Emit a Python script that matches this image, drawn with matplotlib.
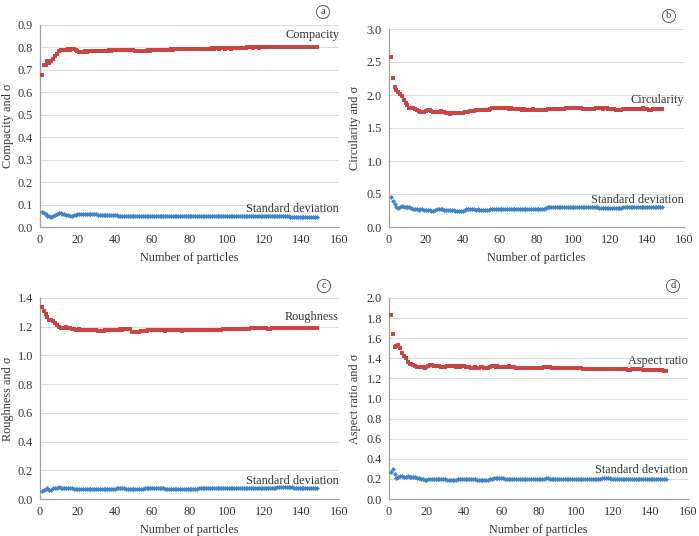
import matplotlib
matplotlib.use("Agg")
import matplotlib.pyplot as plt
import numpy as np

plt.rcParams['font.family'] = ['Liberation Serif', 'DejaVu Serif']

particles = list(range(1, 149))

compacity = [
    0.675, 0.720, 0.722, 0.738, 0.730, 0.740, 0.750, 0.760, 0.772, 0.782,
    0.788, 0.790, 0.789, 0.790, 0.791, 0.790, 0.792, 0.793, 0.788, 0.783,
    0.780, 0.778, 0.781, 0.782, 0.780, 0.782, 0.784, 0.783, 0.782, 0.783,
    0.784, 0.783, 0.784, 0.785, 0.784, 0.786, 0.787, 0.786, 0.788, 0.788,
    0.789, 0.788, 0.788, 0.789, 0.788, 0.789, 0.788, 0.787, 0.788, 0.787,
    0.786, 0.786, 0.785, 0.786, 0.785, 0.785, 0.786, 0.787, 0.786, 0.787,
    0.788, 0.788, 0.789, 0.788, 0.789, 0.790, 0.789, 0.790, 0.790, 0.791,
    0.790, 0.791, 0.791, 0.792, 0.791, 0.792, 0.792, 0.793, 0.792, 0.793,
    0.793, 0.792, 0.793, 0.793, 0.794, 0.793, 0.794, 0.794, 0.795, 0.794,
    0.795, 0.796, 0.795, 0.796, 0.796, 0.795, 0.796, 0.796, 0.795, 0.796,
    0.796, 0.795, 0.796, 0.797, 0.796, 0.797, 0.797, 0.798, 0.799, 0.799,
    0.800, 0.800, 0.800, 0.799, 0.800, 0.800, 0.799, 0.800, 0.800, 0.800,
    0.801, 0.800, 0.801, 0.801, 0.800, 0.801, 0.802, 0.801, 0.802, 0.802,
    0.802, 0.803, 0.802, 0.803, 0.803, 0.802, 0.803, 0.803, 0.804, 0.803,
    0.804, 0.803, 0.804, 0.804, 0.803, 0.804, 0.804, 0.803]

compacity_sd = [
    0.068, 0.062, 0.056, 0.050, 0.047, 0.045, 0.048, 0.052, 0.058, 0.061,
    0.061, 0.059, 0.057, 0.055, 0.053, 0.051, 0.050, 0.052, 0.054, 0.056,
    0.057, 0.058, 0.057, 0.058, 0.057, 0.058, 0.057, 0.057, 0.056, 0.056,
    0.055, 0.054, 0.054, 0.053, 0.053, 0.053, 0.052, 0.053, 0.052, 0.052,
    0.052, 0.051, 0.051, 0.051, 0.050, 0.050, 0.050, 0.050, 0.049, 0.049,
    0.049, 0.049, 0.048, 0.048, 0.048, 0.048, 0.048, 0.049, 0.048, 0.048,
    0.048, 0.048, 0.048, 0.049, 0.048, 0.048, 0.048, 0.048, 0.048, 0.048,
    0.048, 0.048, 0.048, 0.048, 0.048, 0.048, 0.048, 0.048, 0.048, 0.048,
    0.048, 0.048, 0.048, 0.048, 0.048, 0.048, 0.048, 0.048, 0.048, 0.048,
    0.048, 0.048, 0.048, 0.048, 0.048, 0.047, 0.047, 0.047, 0.047, 0.047,
    0.047, 0.047, 0.047, 0.047, 0.047, 0.047, 0.047, 0.047, 0.047, 0.047,
    0.047, 0.047, 0.047, 0.047, 0.047, 0.047, 0.047, 0.047, 0.047, 0.047,
    0.047, 0.047, 0.047, 0.047, 0.047, 0.047, 0.047, 0.047, 0.047, 0.047,
    0.047, 0.047, 0.047, 0.046, 0.046, 0.046, 0.046, 0.046, 0.046, 0.046,
    0.046, 0.046, 0.046, 0.046, 0.046, 0.046, 0.046, 0.046]

circularity = [
    2.58, 2.26, 2.12, 2.08, 2.05, 2.01, 1.98, 1.93, 1.88, 1.85,
    1.81, 1.80, 1.80, 1.79, 1.78, 1.76, 1.74, 1.74, 1.75, 1.76,
    1.77, 1.77, 1.76, 1.75, 1.75, 1.74, 1.75, 1.76, 1.75, 1.74,
    1.73, 1.72, 1.71, 1.72, 1.72, 1.72, 1.73, 1.73, 1.73, 1.73,
    1.74, 1.75, 1.75, 1.76, 1.76, 1.76, 1.77, 1.77, 1.77, 1.77,
    1.78, 1.77, 1.78, 1.78, 1.79, 1.80, 1.81, 1.81, 1.81, 1.81,
    1.81, 1.80, 1.80, 1.80, 1.79, 1.80, 1.79, 1.79, 1.79, 1.79,
    1.79, 1.78, 1.79, 1.78, 1.78, 1.78, 1.78, 1.79, 1.78, 1.78,
    1.78, 1.78, 1.77, 1.78, 1.78, 1.79, 1.79, 1.79, 1.79, 1.79,
    1.79, 1.79, 1.79, 1.79, 1.79, 1.80, 1.80, 1.80, 1.80, 1.80,
    1.80, 1.80, 1.80, 1.80, 1.79, 1.79, 1.79, 1.79, 1.79, 1.79,
    1.79, 1.80, 1.80, 1.80, 1.80, 1.79, 1.80, 1.80, 1.79, 1.79,
    1.79, 1.79, 1.78, 1.78, 1.78, 1.78, 1.79, 1.79, 1.79, 1.79,
    1.79, 1.79, 1.79, 1.79, 1.79, 1.79, 1.79, 1.80, 1.79, 1.79,
    1.78, 1.78, 1.79, 1.79, 1.79, 1.79, 1.79, 1.79]

circularity_sd = [
    0.45, 0.40, 0.35, 0.31, 0.29, 0.30, 0.32, 0.31, 0.31, 0.31,
    0.30, 0.29, 0.28, 0.27, 0.27, 0.26, 0.27, 0.27, 0.26, 0.26,
    0.26, 0.26, 0.25, 0.25, 0.26, 0.27, 0.27, 0.27, 0.27, 0.26,
    0.26, 0.26, 0.26, 0.26, 0.26, 0.25, 0.25, 0.25, 0.25, 0.25,
    0.26, 0.27, 0.27, 0.27, 0.27, 0.27, 0.26, 0.27, 0.26, 0.26,
    0.26, 0.26, 0.26, 0.26, 0.27, 0.28, 0.28, 0.28, 0.28, 0.28,
    0.28, 0.28, 0.28, 0.28, 0.28, 0.28, 0.27, 0.28, 0.28, 0.28,
    0.28, 0.28, 0.27, 0.28, 0.27, 0.27, 0.27, 0.27, 0.27, 0.27,
    0.27, 0.27, 0.27, 0.27, 0.29, 0.30, 0.31, 0.31, 0.31, 0.31,
    0.31, 0.31, 0.31, 0.31, 0.31, 0.31, 0.30, 0.30, 0.30, 0.31,
    0.30, 0.30, 0.30, 0.30, 0.30, 0.30, 0.30, 0.30, 0.30, 0.30,
    0.30, 0.30, 0.30, 0.29, 0.29, 0.29, 0.29, 0.29, 0.29, 0.29,
    0.29, 0.29, 0.29, 0.29, 0.29, 0.29, 0.31, 0.31, 0.31, 0.31,
    0.31, 0.31, 0.31, 0.31, 0.30, 0.30, 0.30, 0.30, 0.30, 0.30,
    0.30, 0.30, 0.30, 0.30, 0.30, 0.30, 0.30, 0.30]

roughness = [
    1.34, 1.31, 1.29, 1.27, 1.25, 1.245, 1.24, 1.225, 1.21, 1.20,
    1.19, 1.19, 1.19, 1.195, 1.19, 1.19, 1.185, 1.185, 1.18, 1.18,
    1.185, 1.18, 1.18, 1.18, 1.18, 1.175, 1.18, 1.175, 1.175, 1.175,
    1.17, 1.17, 1.17, 1.17, 1.175, 1.175, 1.175, 1.175, 1.18, 1.18,
    1.18, 1.18, 1.185, 1.18, 1.185, 1.185, 1.185, 1.185, 1.165, 1.165,
    1.165, 1.165, 1.165, 1.17, 1.17, 1.17, 1.17, 1.175, 1.175, 1.175,
    1.175, 1.175, 1.175, 1.175, 1.175, 1.175, 1.17, 1.175, 1.175, 1.175,
    1.175, 1.175, 1.175, 1.175, 1.175, 1.17, 1.175, 1.175, 1.175, 1.175,
    1.175, 1.175, 1.175, 1.175, 1.175, 1.18, 1.18, 1.18, 1.18, 1.18,
    1.18, 1.18, 1.18, 1.18, 1.18, 1.18, 1.18, 1.185, 1.185, 1.185,
    1.185, 1.185, 1.185, 1.185, 1.185, 1.185, 1.185, 1.185, 1.185, 1.185,
    1.185, 1.185, 1.19, 1.19, 1.19, 1.19, 1.19, 1.19, 1.19, 1.19,
    1.19, 1.185, 1.185, 1.19, 1.19, 1.19, 1.19, 1.19, 1.19, 1.19,
    1.19, 1.19, 1.19, 1.19, 1.19, 1.19, 1.19, 1.19, 1.19, 1.19,
    1.19, 1.19, 1.19, 1.19, 1.19, 1.19, 1.19, 1.19]

roughness_sd = [
    0.058, 0.060, 0.068, 0.075, 0.066, 0.064, 0.074, 0.080, 0.080, 0.081,
    0.080, 0.080, 0.079, 0.077, 0.076, 0.075, 0.074, 0.073, 0.073, 0.072,
    0.072, 0.071, 0.071, 0.070, 0.070, 0.070, 0.070, 0.070, 0.071, 0.071,
    0.071, 0.070, 0.070, 0.070, 0.070, 0.070, 0.070, 0.070, 0.071, 0.071,
    0.074, 0.075, 0.074, 0.074, 0.074, 0.073, 0.073, 0.073, 0.072, 0.072,
    0.072, 0.071, 0.071, 0.071, 0.072, 0.075, 0.075, 0.075, 0.075, 0.075,
    0.075, 0.074, 0.074, 0.074, 0.074, 0.074, 0.073, 0.073, 0.073, 0.073,
    0.073, 0.072, 0.072, 0.072, 0.072, 0.072, 0.072, 0.072, 0.072, 0.072,
    0.072, 0.072, 0.072, 0.073, 0.074, 0.077, 0.078, 0.078, 0.078, 0.078,
    0.078, 0.078, 0.078, 0.078, 0.078, 0.078, 0.078, 0.079, 0.079, 0.079,
    0.079, 0.078, 0.078, 0.078, 0.078, 0.078, 0.078, 0.078, 0.077, 0.077,
    0.077, 0.077, 0.077, 0.077, 0.077, 0.077, 0.077, 0.077, 0.077, 0.077,
    0.077, 0.077, 0.077, 0.077, 0.078, 0.078, 0.082, 0.082, 0.082, 0.081,
    0.081, 0.081, 0.081, 0.081, 0.081, 0.080, 0.080, 0.080, 0.080, 0.080,
    0.080, 0.080, 0.079, 0.079, 0.079, 0.079, 0.078, 0.078]

aspect_ratio = [
    1.83, 1.645, 1.515, 1.52, 1.535, 1.50, 1.455, 1.425, 1.40, 1.365,
    1.34, 1.345, 1.335, 1.32, 1.315, 1.31, 1.315, 1.31, 1.305, 1.31,
    1.325, 1.335, 1.33, 1.325, 1.325, 1.32, 1.32, 1.315, 1.31, 1.315,
    1.32, 1.325, 1.325, 1.32, 1.32, 1.315, 1.32, 1.315, 1.32, 1.32,
    1.315, 1.31, 1.31, 1.305, 1.305, 1.31, 1.305, 1.305, 1.31, 1.31,
    1.305, 1.30, 1.305, 1.315, 1.32, 1.32, 1.315, 1.32, 1.31, 1.31,
    1.315, 1.315, 1.315, 1.32, 1.315, 1.31, 1.31, 1.305, 1.305, 1.305,
    1.305, 1.305, 1.305, 1.30, 1.30, 1.305, 1.30, 1.30, 1.30, 1.30,
    1.305, 1.305, 1.31, 1.31, 1.31, 1.31, 1.305, 1.305, 1.305, 1.305,
    1.30, 1.30, 1.30, 1.305, 1.305, 1.30, 1.30, 1.30, 1.305, 1.305,
    1.30, 1.30, 1.30, 1.295, 1.295, 1.295, 1.295, 1.29, 1.29, 1.29,
    1.29, 1.29, 1.29, 1.29, 1.295, 1.295, 1.295, 1.295, 1.295, 1.295,
    1.295, 1.295, 1.29, 1.29, 1.29, 1.29, 1.29, 1.285, 1.285, 1.29,
    1.29, 1.29, 1.29, 1.29, 1.29, 1.285, 1.285, 1.285, 1.285, 1.285,
    1.285, 1.28, 1.28, 1.28, 1.28, 1.28, 1.275, 1.275]

aspect_ratio_sd = [
    0.268, 0.298, 0.245, 0.212, 0.218, 0.225, 0.225, 0.222, 0.215, 0.225,
    0.222, 0.220, 0.218, 0.215, 0.210, 0.205, 0.200, 0.195, 0.190, 0.185,
    0.195, 0.200, 0.198, 0.195, 0.195, 0.195, 0.195, 0.195, 0.195, 0.195,
    0.193, 0.192, 0.190, 0.188, 0.186, 0.188, 0.195, 0.198, 0.200, 0.200,
    0.200, 0.198, 0.196, 0.196, 0.195, 0.195, 0.194, 0.193, 0.192, 0.190,
    0.188, 0.186, 0.190, 0.198, 0.203, 0.205, 0.205, 0.205, 0.205, 0.205,
    0.205, 0.203, 0.202, 0.200, 0.200, 0.198, 0.196, 0.196, 0.196, 0.196,
    0.196, 0.196, 0.196, 0.196, 0.196, 0.196, 0.198, 0.200, 0.200, 0.200,
    0.200, 0.202, 0.203, 0.204, 0.204, 0.203, 0.202, 0.201, 0.200, 0.200,
    0.200, 0.200, 0.199, 0.199, 0.199, 0.200, 0.200, 0.200, 0.200, 0.200,
    0.200, 0.200, 0.199, 0.199, 0.198, 0.198, 0.198, 0.197, 0.197, 0.197,
    0.197, 0.197, 0.198, 0.205, 0.205, 0.205, 0.204, 0.204, 0.203, 0.203,
    0.202, 0.202, 0.201, 0.201, 0.200, 0.200, 0.200, 0.200, 0.200, 0.200,
    0.200, 0.200, 0.200, 0.200, 0.199, 0.199, 0.199, 0.199, 0.198, 0.198,
    0.198, 0.198, 0.197, 0.197, 0.196, 0.196, 0.195, 0.195]

panel_letters = ['a', 'b', 'c', 'd']
series_names = ['Compacity', 'Circularity', 'Roughness', 'Aspect ratio']
y_labels = ['Compacity and σ', 'Circularity and σ', 'Roughness and σ', 'Aspect ratio and σ']
y_ticks = [
    [0.0, 0.1, 0.2, 0.3, 0.4, 0.5, 0.6, 0.7, 0.8, 0.9],
    [0.0, 0.5, 1.0, 1.5, 2.0, 2.5, 3.0],
    [0.0, 0.2, 0.4, 0.6, 0.8, 1.0, 1.2, 1.4],
    [0.0, 0.2, 0.4, 0.6, 0.8, 1.0, 1.2, 1.4, 1.6, 1.8, 2.0],
]
x_ticks = [0, 20, 40, 60, 80, 100, 120, 140, 160]
main_series = [compacity, circularity, roughness, aspect_ratio]
sd_series = [compacity_sd, circularity_sd, roughness_sd, aspect_ratio_sd]

RED = '#c94442'
BLUE = '#3f83c8'

W, H = 699, 536
fig = plt.figure(figsize=(W / 100, H / 100), dpi=100)

# axes rectangles in pixels: left, right, top, bottom
rects = [
    (40, 339, 25, 227),
    (389, 684, 29, 227),
    (40, 339, 298, 499),
    (389, 688, 298, 499),
]
name_y = [0.855, 1.93, 1.27, 1.376]
sd_y = [0.080, 0.41, 0.125, 0.289]
letter_pos = [(323, 12), (669, 16), (324, 286), (673, 286)]
ylabel_x = [8, 355, 8, 355]
xlabel_y = [258, 258, 530, 530]

for i in range(4):
    l, r, t, b = rects[i]
    ax = fig.add_axes([l / W, 1 - b / H, (r - l) / W, (b - t) / H])
    ax.plot(particles, main_series[i], linestyle='none', marker='s',
            markersize=3.5, color=RED, markeredgewidth=0, zorder=3)
    ax.plot(particles, sd_series[i], linestyle='none', marker='D',
            markersize=2.5, color=BLUE, markeredgewidth=0, zorder=3)
    ax.set_xlim(0, 160)
    ax.set_ylim(y_ticks[i][0], y_ticks[i][-1])
    ax.set_xticks(x_ticks)
    ax.set_yticks(y_ticks[i])
    ax.set_yticklabels([f'{v:.1f}' for v in y_ticks[i]])
    ax.yaxis.grid(True, color='#dcdcdc', linewidth=0.8)
    ax.set_axisbelow(True)
    for s in ['top', 'right']:
        ax.spines[s].set_visible(False)
    for s in ['left', 'bottom']:
        ax.spines[s].set_color('#a0a0a0')
        ax.spines[s].set_linewidth(0.9)
    ax.tick_params(axis='both', length=0, labelsize=8.8, colors='#333333')
    ax.tick_params(axis='x', pad=5)
    ax.tick_params(axis='y', pad=5)
    ax.text(160, name_y[i], series_names[i], ha='right', va='center',
            fontsize=8.8, color='#333333')
    ax.text(160, sd_y[i], 'Standard deviation', ha='right', va='center',
            fontsize=8.8, color='#333333')
    fig.text(ylabel_x[i] / W, 1 - ((t + b) / 2) / H, y_labels[i], rotation=90,
             ha='center', va='center', fontsize=8.8, color='#333333')
    fig.text(((l + r) / 2) / W, 1 - xlabel_y[i] / H, 'Number of particles',
             ha='center', va='center', fontsize=8.8, color='#333333')
    lx, ly = letter_pos[i]
    fig.text(lx / W, 1 - ly / H, panel_letters[i], ha='center', va='center',
             fontsize=7.5, color='#333333',
             bbox=dict(boxstyle='circle,pad=0.2', fc='white', ec='#444444', lw=0.6))

fig.savefig('out.png', dpi=100, facecolor='white')
